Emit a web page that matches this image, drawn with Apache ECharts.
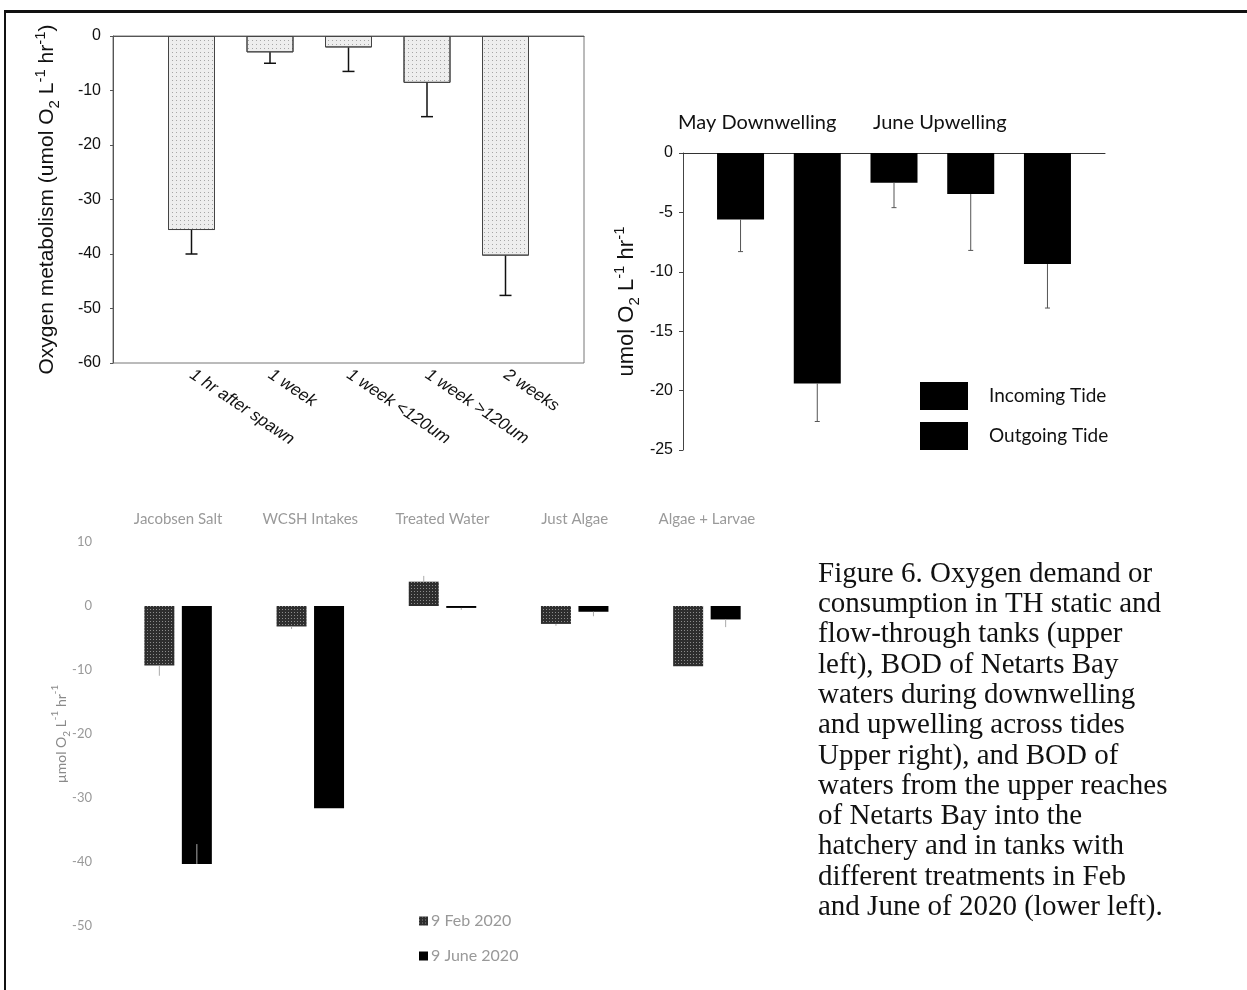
<!DOCTYPE html>
<html>
<head>
<meta charset="utf-8">
<title>Figure 6</title>
<script src="https://cdn.jsdelivr.net/npm/echarts@6/dist/echarts.min.js"></script>
<style>
    html, body { margin: 0; padding: 0; background: #fff; }
    #frame { position: absolute; left: 4px; top: 10px; width: 1243px; height: 980px;
             border-left: 2px solid #111; border-top: 3px solid #111; box-sizing: border-box; }
    #main { position: absolute; left: 0; top: 0; width: 1247px; height: 990px; }
</style>
</head>
<body>
<div id="frame"></div>
<div id="main"></div>
<script>
    // upper left - TH static and flow-through tanks
    var stageNames = ['1 hr after spawn', '1 week', '1 week <120um', '1 week >120um', '2 weeks'];
    var stagePos = [1, 2, 3, 4, 5];
    var stageMean = [-35.6, -3.0, -2.1, -8.6, -40.3];
    var stageErrEnd = [-40.0, -5.0, -6.5, -14.8, -47.6];

    // upper right - Netarts Bay BOD across tides
    var tideGroups = ['May Downwelling', 'June Upwelling'];
    var incomingPos = [1, 3, 5];
    var incomingMean = [-5.6, -2.5, -9.35];
    var incomingErrEnd = [-8.3, -4.6, -13.05];
    var outgoingPos = [2, 4];
    var outgoingMean = [-19.4, -3.45];
    var outgoingErrEnd = [-22.6, -8.2];

    // lower left - hatchery waters, Feb and June 2020
    var sites = ['Jacobsen Salt', 'WCSH Intakes', 'Treated Water', 'Just Algae', 'Algae + Larvae'];
    var feb2020 = [-9.3, -3.2, 3.8, -2.8, -9.4];
    var febErrEnd = [-10.9, -3.6, 4.7, -3.1, null];
    var june2020 = [-40.3, -31.6, -0.3, -0.9, -2.1];
    var juneErrEnd = [-37.2, null, -0.6, -1.6, -3.3];

    var captionLines = [
        'Figure 6. Oxygen demand or',
        'consumption in TH static and',
        'flow-through tanks (upper',
        'left), BOD of Netarts Bay',
        'waters during downwelling',
        'and upwelling across tides',
        'Upper right), and BOD of',
        'waters from the upper reaches',
        'of Netarts Bay into the',
        'hatchery and in tanks with',
        'different treatments in Feb',
        'and June of 2020 (lower left).'
    ];

    function pairs(xs, ys) {
        return xs.map(function (x, i) { return [x, ys[i]]; });
    }
    function errData(xs, means, ends, side) {
        var out = [];
        xs.forEach(function (x, i) {
            if (ends[i] !== null) out.push([x, means[i], ends[i], side || 0]);
        });
        return out;
    }
    // error bar drawn from the bar end out to the error end
    function errorBar(color, cap, lw, shift) {
        return function (params, api) {
            var a = api.coord([api.value(0), api.value(1)]);
            var b = api.coord([api.value(0), api.value(2)]);
            var x = a[0] + shift * api.value(3);
            var style = { stroke: color, lineWidth: lw };
            var kids = [{ type: 'line', shape: { x1: x, y1: a[1], x2: x, y2: b[1] }, style: style }];
            if (cap > 0) {
                kids.push({ type: 'line', shape: { x1: x - cap / 2, y1: b[1], x2: x + cap / 2, y2: b[1] }, style: style });
            }
            return { type: 'group', children: kids };
        };
    }
    function unitName(lead, size, family, color) {
        return {
            text: '{n|' + lead + 'umol O}{sub|2}{n| L}{sup|-1}{n| hr}{sup|-1}',
            rich: {
                n: { fontSize: size, fontFamily: family, color: color, lineHeight: size + 8 },
                sub: { fontSize: Math.round(size * 0.7), fontFamily: family, color: color, verticalAlign: 'bottom', lineHeight: size * 0.7 },
                sup: { fontSize: Math.round(size * 0.7), fontFamily: family, color: color, verticalAlign: 'top', lineHeight: size * 0.7 }
            }
        };
    }

    var arial = '"Liberation Sans", Arial, sans-serif';
    var calibri = 'Lato, "Open Sans", sans-serif';

    var leftName = unitName('Oxygen metabolism (', 21, arial, '#111');
    leftName.text += '{n|)}';
    var rightName = unitName('', 22, arial, '#111');
    var lowName = unitName('', 14, calibri, '#8a8a8a');
    lowName.text = lowName.text.replace('{n|umol', '{n|µmol');

    var myChart = echarts.init(document.getElementById('main'));
    var option = {
        animation: false,
        backgroundColor: 'transparent',
        title: [
            { text: tideGroups[0], left: 678, top: 113, padding: 0,
              textStyle: { fontFamily: calibri, fontSize: 20, fontWeight: 'normal', color: '#111' } },
            { text: tideGroups[1], left: 873, top: 113, padding: 0,
              textStyle: { fontFamily: calibri, fontSize: 20, fontWeight: 'normal', color: '#111' } }
        ],
        legend: [
            {
                data: ['Incoming Tide', 'Outgoing Tide'],
                orient: 'vertical', left: 920, top: 382, padding: 0,
                itemWidth: 48, itemHeight: 28, itemGap: 12, icon: 'rect',
                textStyle: { fontFamily: calibri, fontSize: 19, color: '#111', padding: [0, 0, 0, 16] }
            },
            {
                data: ['9 Feb 2020', '9 June 2020'],
                orient: 'vertical', left: 419, top: 913, padding: 0,
                itemWidth: 9, itemHeight: 9, itemGap: 19, icon: 'rect',
                textStyle: { fontFamily: calibri, fontSize: 16, color: '#999', padding: [0, 0, 0, -2] }
            }
        ],
        grid: [
            { left: 113, top: 36, width: 471, height: 327, show: true, borderColor: '#777', borderWidth: 1, backgroundColor: '#fff' },
            { left: 683, top: 153, width: 422, height: 297 },
            { left: 112, top: 542, width: 661, height: 384 }
        ],
        xAxis: [
            {
                gridIndex: 0, type: 'value', min: 0, max: 6,
                axisLine: { lineStyle: { color: '#555' } },
                axisTick: { customValues: stagePos, length: 5, lineStyle: { color: '#333' } },
                axisLabel: {
                    customValues: stagePos, rotate: -34, margin: 10,
                    fontFamily: arial, fontStyle: 'italic', fontSize: 17, color: '#111',
                    formatter: function (v) { return stageNames[stagePos.indexOf(v)]; }
                },
                splitLine: { show: false }
            },
            {
                gridIndex: 1, type: 'value', min: 0.25, max: 5.75, position: 'top',
                axisLine: { onZero: false, lineStyle: { color: '#333' } },
                axisTick: { show: false }, axisLabel: { show: false }, splitLine: { show: false }
            },
            {
                gridIndex: 2, type: 'category', data: sites, position: 'top',
                axisLine: { show: false }, axisTick: { show: false },
                axisLabel: { interval: 0, hideOverlap: false, fontFamily: calibri, fontSize: 15, color: '#9a9a9a', margin: 15 }
            }
        ],
        yAxis: [
            {
                gridIndex: 0, type: 'value', min: -60, max: 0, interval: 10,
                axisLine: { show: true, lineStyle: { color: '#555' } },
                axisTick: { show: true, length: 3, lineStyle: { color: '#555' } },
                axisLabel: { fontFamily: arial, fontSize: 16, color: '#111', margin: 12 },
                splitLine: { show: false },
                name: leftName.text, nameLocation: 'middle', nameGap: 51,
                nameTextStyle: { rich: leftName.rich }
            },
            {
                gridIndex: 1, type: 'value', min: -25, max: 0, interval: 5,
                axisLine: { show: true, lineStyle: { color: '#444' } },
                axisTick: { show: true, length: 4, lineStyle: { color: '#444' } },
                axisLabel: { fontFamily: arial, fontSize: 16, color: '#111', margin: 10 },
                splitLine: { show: false },
                name: rightName.text, nameLocation: 'middle', nameGap: 41,
                nameTextStyle: { rich: rightName.rich }
            },
            {
                gridIndex: 2, type: 'value', min: -50, max: 10, interval: 10,
                axisLine: { show: false }, axisTick: { show: false },
                axisLabel: { fontFamily: calibri, fontSize: 13, color: '#999', margin: 20 },
                splitLine: { show: false },
                name: lowName.text, nameLocation: 'middle', nameGap: 40, nameMoveOverlap: false,
                nameTextStyle: { rich: lowName.rich }
            }
        ],
        series: [
            {
                name: 'stage', type: 'bar', xAxisIndex: 0, yAxisIndex: 0, barWidth: 47,
                data: pairs(stagePos, stageMean),
                itemStyle: {
                    color: '#eeeeee', borderColor: '#444', borderWidth: 1,
                    decal: { symbol: 'rect', symbolSize: 1, dashArrayX: [1, 3], dashArrayY: [1, 3], color: 'rgba(0,0,0,0.3)' }
                }
            },
            {
                type: 'custom', xAxisIndex: 0, yAxisIndex: 0, z: 5,
                renderItem: errorBar('#111', 12, 1.5, 0),
                data: errData(stagePos, stageMean, stageErrEnd)
            },
            {
                name: 'Incoming Tide', type: 'bar', xAxisIndex: 1, yAxisIndex: 1, barWidth: 47, barGap: '-100%',
                data: pairs(incomingPos, incomingMean),
                itemStyle: { color: '#000' }
            },
            {
                name: 'Outgoing Tide', type: 'bar', xAxisIndex: 1, yAxisIndex: 1, barWidth: 47, barGap: '-100%',
                data: pairs(outgoingPos, outgoingMean),
                itemStyle: { color: '#000' }
            },
            {
                type: 'custom', xAxisIndex: 1, yAxisIndex: 1, z: 5,
                renderItem: errorBar('#555', 5, 1, 0),
                data: errData(incomingPos, incomingMean, incomingErrEnd).concat(errData(outgoingPos, outgoingMean, outgoingErrEnd))
            },
            {
                name: '9 Feb 2020', type: 'bar', xAxisIndex: 2, yAxisIndex: 2, barWidth: 30, barGap: '25%',
                data: feb2020,
                itemStyle: {
                    color: '#2e2e2e',
                    decal: { symbol: 'rect', symbolSize: 1, dashArrayX: [1, 2], dashArrayY: [1, 2], color: 'rgba(255,255,255,0.45)' }
                }
            },
            {
                name: '9 June 2020', type: 'bar', xAxisIndex: 2, yAxisIndex: 2, barWidth: 30, barGap: '25%',
                data: june2020,
                itemStyle: { color: '#000' }
            },
            {
                type: 'custom', xAxisIndex: 2, yAxisIndex: 2, z: 5,
                renderItem: errorBar('#aaa', 0, 1, 18.75),
                data: errData(sites.map(function (s, i) { return i; }), feb2020, febErrEnd, -1)
                    .concat(errData(sites.map(function (s, i) { return i; }), june2020, juneErrEnd, 1))
            }
        ],
        graphic: [
            {
                type: 'text', left: 818, top: 559,
                style: { text: captionLines.join('\n'), font: '29px "Liberation Serif", "Times New Roman", serif', lineHeight: 30.3, fill: '#111' }
            }
        ]
    };
    myChart.setOption(option);
</script>
</body>
</html>
